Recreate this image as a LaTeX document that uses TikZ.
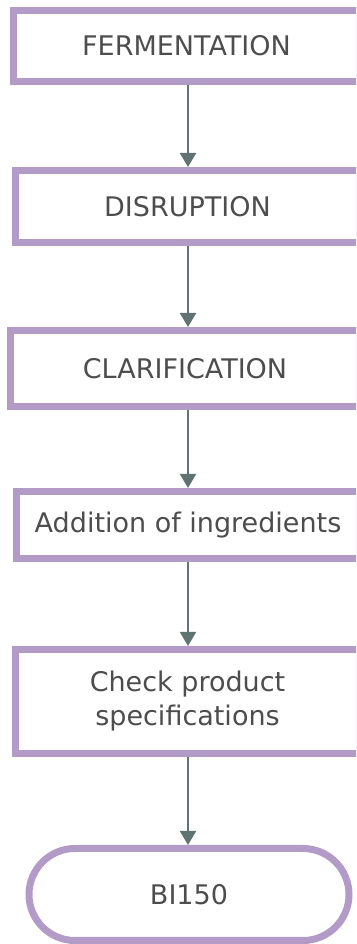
\documentclass[tikz,border=0pt]{standalone}
\usepackage{fontspec}
\setmainfont{DejaVu Sans}
\usepackage{xcolor}
\usepackage{tikz}
\usetikzlibrary{shapes,positioning,calc,arrows.meta}
\definecolor{boxpurple}{HTML}{B39BC8}
\definecolor{flowgrey}{HTML}{5F7373}
\definecolor{labelgrey}{HTML}{4D4D4D}

\begin{document}
\begin{tikzpicture}[x=1pt,y=1pt,
    stagebox/.style={rectangle, draw=boxpurple, line width=7pt, fill=white, text=labelgrey,
        font=\fontsize{27}{34}\selectfont, align=center, inner sep=0pt},
    endbox/.style={stagebox, rounded rectangle},
    flow/.style={draw=flowgrey, line width=2pt, -{Triangle[width=16pt,length=14pt]}}]
    \useasboundingbox (0,0) rectangle (356,944);
    \clip (0,0) rectangle (356,944);

    % Process steps (right edges run off the page)
    \node[stagebox, minimum width=346, minimum height=71] (ferm) at (186.5,898) {FERMENTATION};
    \node[stagebox, minimum width=344, minimum height=72] (disr) at (187.5,737.5) {DISRUPTION};
    \node[stagebox, minimum width=349, minimum height=76] (clar) at (185,575.5) {CLARIFICATION};
    \node[stagebox, minimum width=343, minimum height=67] (addi) at (188,419) {Addition of ingredients};
    \node[stagebox, minimum width=344, minimum height=104] (spec) at (187.5,242.5) {Check product\\specifications};
    % Final product
    \node[endbox, minimum width=320, minimum height=92] (prod) at (189,49.5) {BI150};

    % Flow arrows
    \coordinate (axis) at (188,0);
    \draw[flow] (ferm.south -| axis) -- (disr.north -| axis);
    \draw[flow] (disr.south -| axis) -- (clar.north -| axis);
    \draw[flow] (clar.south -| axis) -- (addi.north -| axis);
    \draw[flow] (addi.south -| axis) -- (spec.north -| axis);
    \draw[flow] (spec.south -| axis) -- (prod.north -| axis);
\end{tikzpicture}
\end{document}
